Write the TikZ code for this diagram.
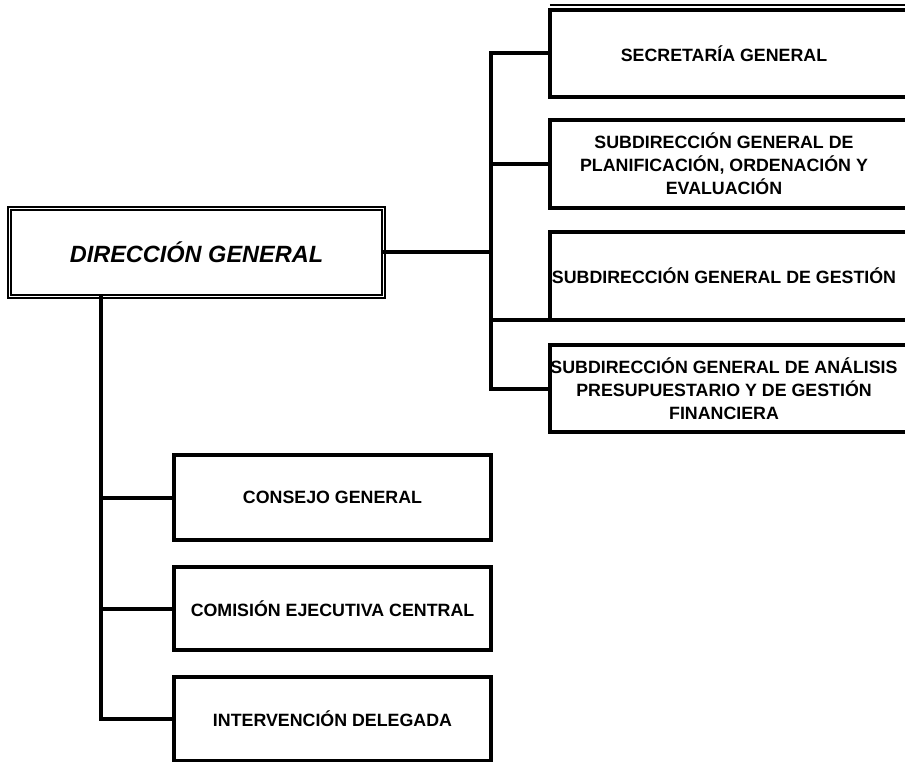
\documentclass[tikz,border=0pt]{standalone}
\usepackage{fontspec}
\setmainfont{Liberation Sans}
\tikzset{
  unitbox/.style={draw,line width=4pt,minimum width=317pt,align=center,
    font=\fontsize{17.8}{23}\selectfont\bfseries},
  openbox/.style={minimum width=348pt,inner xsep=0pt,align=center,
    font=\fontsize{17.8}{23}\selectfont\bfseries},
  link/.style={line width=4pt,line cap=rect}
}
\begin{document}
\begin{tikzpicture}[x=1pt,y=-1pt]
  \useasboundingbox (0,0) rectangle (905,762);
  \clip (0,0) rectangle (905,762);
  % head
  \node[draw,double,double distance=1.6pt,line width=1.6pt,minimum width=374pt,minimum height=88pt,
    font=\fontsize{23.5}{28}\selectfont\bfseries\itshape] (dg) at (196.5,252.5) {DIRECCIÓN GENERAL};
  % right column
  \node[openbox,minimum height=87pt] (sg) at (724,53.5) {SECRETARÍA GENERAL};
  \node[openbox,minimum height=88pt] (sgp) at (724,164) {SUBDIRECCIÓN GENERAL DE\\PLANIFICACIÓN, ORDENACIÓN Y\\EVALUACIÓN};
  \node[openbox,minimum height=88pt] (sgg) at (724,276) {SUBDIRECCIÓN GENERAL DE GESTIÓN};
  \node[openbox,minimum height=87pt] (sga) at (724,388.5) {SUBDIRECCIÓN GENERAL DE ANÁLISIS\\PRESUPUESTARIO Y DE GESTIÓN\\FINANCIERA};
  \foreach \n in {sg,sgp,sgg,sga}
    \draw[line width=4pt] ([xshift=20pt]\n.north east) -- (\n.north west) -- (\n.south west) -- ([xshift=20pt]\n.south east);
  \draw[line width=2pt] ([yshift=5pt]sg.north west) -- ([xshift=20pt,yshift=5pt]sg.north east);
  % lower column
  \node[unitbox,minimum height=85pt] (cg) at (332.5,497.5) {CONSEJO GENERAL};
  \node[unitbox,minimum height=83pt] (cec) at (332.5,608.5) {COMISIÓN EJECUTIVA CENTRAL};
  \node[unitbox,minimum height=84pt] (id) at (332.5,719) {INTERVENCIÓN DELEGADA};
  % buses
  \coordinate (rb) at (491,0);
  \coordinate (lb) at (101,0);
  \draw[link] (dg.east) -- (dg.east -| rb);
  \draw[link] (sg.west -| rb) -- (sga.west -| rb);
  \foreach \n in {sg,sgp,sga}
    \draw[link] (\n.west -| rb) -- (\n.west);
  \draw[link] (sgg.south west -| rb) -- (sgg.south west);
  \draw[link] (dg.south -| lb) -- (id.west -| lb);
  \foreach \n in {cg,cec,id}
    \draw[link] (\n.west -| lb) -- (\n.west);
\end{tikzpicture}
\end{document}
